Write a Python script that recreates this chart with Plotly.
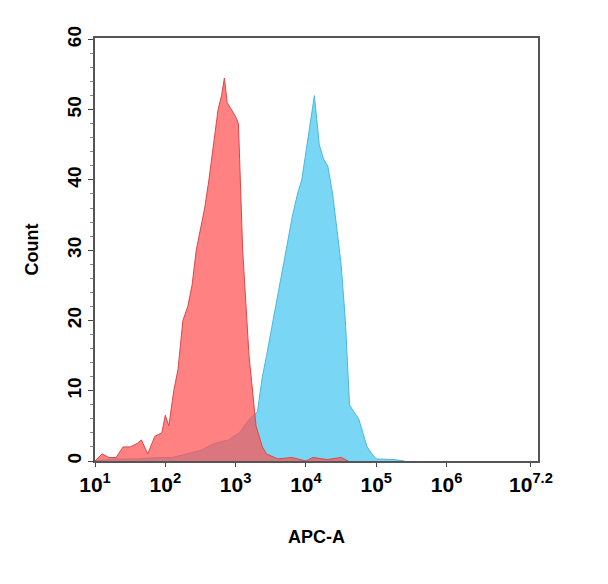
import plotly.graph_objects as go

red_logx = [1.0,1.1,1.2,1.3,1.4,1.5,1.6,1.66,1.75,1.85,1.95,2.0,2.05,2.12,2.18,2.25,2.32,2.38,2.44,2.5,2.56,2.62,2.68,2.75,2.8,2.84,2.88,2.94,3.0,3.04,3.1,3.19,3.29,3.38,3.44,3.6,3.8,4.0,4.1,4.3,4.5,4.6]
red_count = [0,1,0.5,0.5,2,2,2.5,3,1,3.5,4,6.5,5,10,13,20,22,25,30,33,36,40,45,50,52,54.5,51,50,49,48,30,15,5,2,1,0.3,0.5,0,0.5,0.2,0.5,0]
blue_logx = [1.0,1.3,1.6,1.9,2.1,2.3,2.5,2.7,2.9,3.05,3.2,3.31,3.38,3.44,3.53,3.62,3.72,3.81,3.88,3.94,4.0,4.06,4.12,4.19,4.25,4.31,4.38,4.44,4.5,4.56,4.62,4.68,4.75,4.81,4.87,4.94,5.0,5.25,5.4]
blue_count = [0,0.3,0.3,0.5,0.5,1,1.5,2.5,3,4,6,7,12,15,20,25,30,35,38,40,44,48,52,45,43,42,38,33,28,20,8,7,6,4,2,1,0.3,0.2,0]

red_x = [10**v for v in red_logx]
blue_x = [10**v for v in blue_logx]

tickvals = [1e1,1e2,1e3,1e4,1e5,1e6,10**7.2]
ticktext = ["10<sup>1</sup>","10<sup>2</sup>","10<sup>3</sup>","10<sup>4</sup>","10<sup>5</sup>","10<sup>6</sup>","10<sup>7.2</sup>"]

fig = go.Figure()
fig.add_trace(go.Scatter(x=blue_x, y=blue_count, mode="lines", fill="tozeroy",
    line=dict(color="#4cb8dc", width=1), fillcolor="rgb(122,214,245)"))
fig.add_trace(go.Scatter(x=red_x, y=red_count, mode="lines", fill="tozeroy",
    line=dict(color="#d84848", width=1), fillcolor="rgba(255,80,80,0.72)"))

font = dict(family="Liberation Sans, Arial", size=18, color="black")
fig.update_layout(width=560, height=540, showlegend=False,
    plot_bgcolor="white", paper_bgcolor="white",
    margin=dict(l=87, r=30, t=30, b=87, autoexpand=False))
fig.update_xaxes(type="log", range=[1, 7.3], tickvals=tickvals, ticktext=ticktext,
    tickfont=dict(family="Liberation Sans, Arial", size=21, color="black", weight="bold"),
    showgrid=False, showline=True, linecolor="#555", linewidth=1.5, mirror=True,
    ticks="outside", ticklen=4, zeroline=False, automargin=False,
    title=dict(text="<b>APC-A</b>", font=font, standoff=35))
fig.update_yaxes(range=[0, 60.2], tickvals=[0,10,20,30,40,50,60], tickangle=-90,
    tickfont=dict(family="Liberation Sans, Arial", size=19, color="black", weight="bold"),
    showgrid=False, showline=True, linecolor="#555", linewidth=1.5, mirror=True,
    ticks="outside", ticklen=5, zeroline=False, automargin=False,
    minor=dict(dtick=2, ticks="outside", ticklen=3, tickcolor="#888"),
    title=dict(text="<b>Count</b>", font=font, standoff=20))
fig.write_html("out.html")
